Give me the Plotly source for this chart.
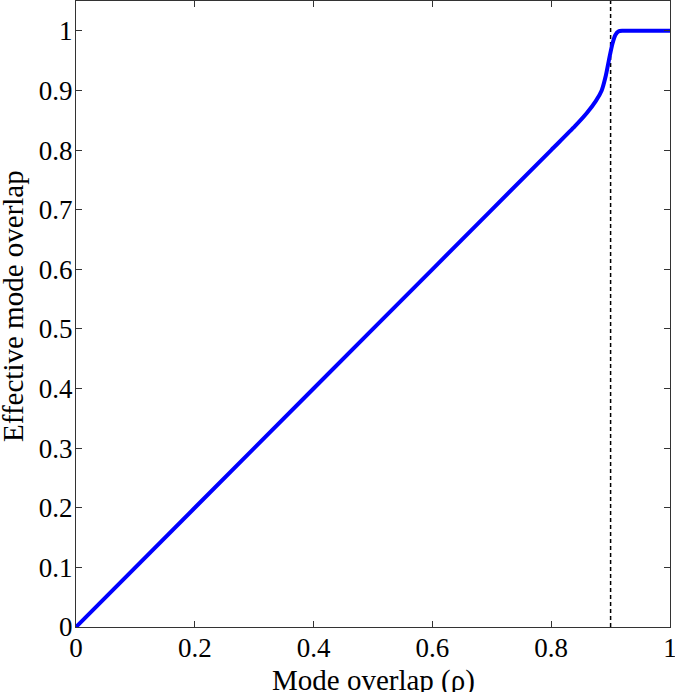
import plotly.graph_objects as go

# Data
rho = [0.0, 0.2, 0.4, 0.6, 0.8, 0.84, 0.86, 0.875, 0.885, 0.892, 0.898, 0.903, 0.908, 0.913, 0.92, 0.95, 1.0]
eff = [0.0, 0.2, 0.4, 0.6, 0.8, 0.84, 0.862, 0.882, 0.9, 0.925, 0.955, 0.978, 0.993, 0.999, 1.0, 1.0, 1.0]
threshold_x = [0.9, 0.9]
threshold_y = [0.0, 1.05]
xticks = [0, 0.2, 0.4, 0.6, 0.8, 1]
xticklabels = ["0", "0.2", "0.4", "0.6", "0.8", "1"]
yticks = [0, 0.1, 0.2, 0.3, 0.4, 0.5, 0.6, 0.7, 0.8, 0.9, 1]
yticklabels = ["0", "0.1", "0.2", "0.3", "0.4", "0.5", "0.6", "0.7", "0.8", "0.9", "1"]
xlabel = "Mode overlap (ρ)"
ylabel = "Effective mode overlap"

fig = go.Figure()
fig.add_trace(go.Scatter(x=threshold_x, y=threshold_y, mode="lines",
                         line=dict(color="black", width=1.5, dash="4px,3px"),
                         showlegend=False, hoverinfo="skip"))
fig.add_trace(go.Scatter(x=rho, y=eff, mode="lines",
                         line=dict(color="#0000ff", width=4, shape="spline", smoothing=0.6),
                         showlegend=False))

font_family = "Liberation Serif, Times New Roman, serif"
axis_common = dict(showgrid=False, zeroline=False, showline=True, linecolor="#333333",
                   linewidth=1, mirror="ticks", ticks="inside", ticklen=6,
                   tickcolor="#333333", tickwidth=1, automargin=False,
                   ticklabeloverflow="allow",
                   tickfont=dict(family=font_family, size=27, color="black"))

fig.update_layout(
    width=675, height=692,
    margin=dict(l=76, r=5, t=1, b=65),
    paper_bgcolor="white", plot_bgcolor="white",
    font=dict(family=font_family, color="black"),
    xaxis=dict(range=[0, 1], tickvals=xticks, ticktext=xticklabels,
               ticklabelstandoff=-3, **axis_common),
    yaxis=dict(range=[0, 1.05], tickvals=yticks, ticktext=yticklabels,
               ticklabelstandoff=-3, **axis_common),
    annotations=[
        dict(text=xlabel, xref="paper", yref="paper", x=0.5, y=-0.085,
             xanchor="center", yanchor="middle", showarrow=False,
             font=dict(family=font_family, size=29, color="black")),
        dict(text=ylabel, xref="paper", yref="paper", x=-0.106, y=0.513,
             xanchor="center", yanchor="middle", showarrow=False, textangle=-90,
             font=dict(family=font_family, size=29, color="black")),
    ],
)

fig.write_html("out.html", config={"displayModeBar": False},
               post_script="document.body.style.margin='0';document.body.style.overflow='hidden';")
